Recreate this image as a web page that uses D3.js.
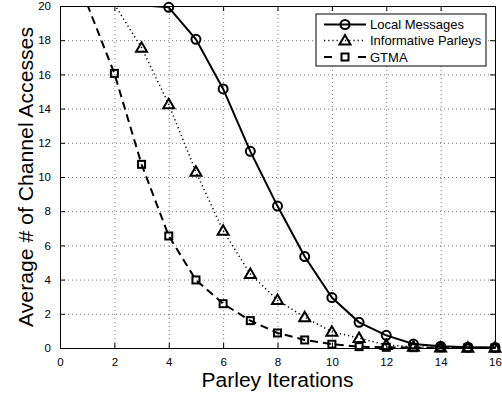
<!DOCTYPE html>
<html>
<head>
<meta charset="utf-8">
<script src="https://d3js.org/d3.v7.min.js"></script>
<style>
	body { margin: 0; background: #fff; }
	text { font-family: "Liberation Sans", Arial, sans-serif; fill: #000; }
	.grid line { stroke: #777; stroke-width: 1; stroke-dasharray: 1,3; }
	.grid path { display: none; }
</style>
</head>
<body>
<div id="svg-div"></div>
<script>
// values
var xTicks = [0, 2, 4, 6, 8, 10, 12, 14, 16];
var yTicks = [0, 2, 4, 6, 8, 10, 12, 14, 16, 18, 20];

var localX = [3, 4, 5, 6, 7, 8, 9, 10, 11, 12, 13, 14, 15, 16];
var localY = [20.05, 19.92, 18.05, 15.15, 11.5, 8.3, 5.35, 2.95, 1.5, 0.74, 0.23, 0.1, 0.05, 0.03];

var informX = [2, 3, 4, 5, 6, 7, 8, 9, 10, 11, 12, 13, 14, 15, 16];
var informY = [20.1, 17.56, 14.25, 10.3, 6.86, 4.33, 2.8, 1.8, 0.95, 0.58, 0.17, 0.07, 0.03, 0.02, 0.01];

var gtmaX = [1, 2, 3, 4, 5, 6, 7, 8, 9, 10, 11, 12, 13, 14, 15, 16];
var gtmaY = [20.1, 16.06, 10.74, 6.55, 3.98, 2.59, 1.6, 0.88, 0.47, 0.22, 0.08, 0.04, 0.02, 0.01, 0.01, 0.01];

var seriesNames = ["Local Messages", "Informative Parleys", "GTMA"];

var chartProperties = {
	outerWidth: 502,
	outerHeight: 396,
	margin: { top: 6, right: 7, bottom: 48, left: 60 }
};
chartProperties.width = chartProperties.outerWidth - chartProperties.margin.left - chartProperties.margin.right;
chartProperties.height = chartProperties.outerHeight - chartProperties.margin.top - chartProperties.margin.bottom;

var root = d3.select("#svg-div")
	.append("svg")
	.attr("width", chartProperties.outerWidth)
	.attr("height", chartProperties.outerHeight);

root.append("rect")
	.attr("width", chartProperties.outerWidth)
	.attr("height", chartProperties.outerHeight)
	.attr("fill", "#fff");

var svg = root.append("g")
	.attr("transform", "translate(" + chartProperties.margin.left + "," + chartProperties.margin.top + ")");

// Scale
var xScale = d3.scaleLinear()
	.domain([0, 16])
	.range([0, chartProperties.width]);

var yScale = d3.scaleLinear()
	.domain([0, 20])
	.range([chartProperties.height, 0]);

// Gridline
svg.append("g")
	.attr("class", "grid")
	.call(d3.axisBottom(xScale).tickValues(xTicks.slice(1, -1)).tickFormat("").tickSize(chartProperties.height));

svg.append("g")
	.attr("class", "grid")
	.call(d3.axisRight(yScale).tickValues(yTicks.slice(1, -1)).tickFormat("").tickSize(chartProperties.width));

// clip
svg.append("clipPath")
	.attr("id", "plot-clip")
	.append("rect")
	.attr("width", chartProperties.width)
	.attr("height", chartProperties.height);

function zip(xs, ys) {
	return xs.map(function(x, i) {
		return { x: x, y: ys[i] };
	});
}

var series = [
	{ name: seriesNames[0], data: zip(localX, localY), dash: null, width: 2, marker: "circle" },
	{ name: seriesNames[1], data: zip(informX, informY), dash: "1.2,3", width: 1.5, marker: "triangle" },
	{ name: seriesNames[2], data: zip(gtmaX, gtmaY), dash: "8,5", width: 2, marker: "square" }
];

var line = d3.line()
	.x(function(d) { return xScale(d.x); })
	.y(function(d) { return yScale(d.y); });

function drawMarker(g, type, x, y) {
	if (type == "circle") {
		g.append("circle")
			.attr("cx", x).attr("cy", y).attr("r", 4.5)
			.attr("fill", "none").attr("stroke", "#000").attr("stroke-width", 2);
	} else if (type == "triangle") {
		g.append("path")
			.attr("d", "M" + x + "," + (y - 5.5) + "L" + (x + 5.5) + "," + (y + 4) + "L" + (x - 5.5) + "," + (y + 4) + "Z")
			.attr("fill", "none").attr("stroke", "#000").attr("stroke-width", 2);
	} else {
		g.append("rect")
			.attr("x", x - 3.5).attr("y", y - 3.5).attr("width", 7).attr("height", 7)
			.attr("fill", "none").attr("stroke", "#000").attr("stroke-width", 2);
	}
}

var plot = svg.append("g").attr("clip-path", "url(#plot-clip)");

series.forEach(function(s) {
	plot.append("path")
		.datum(s.data)
		.attr("d", line)
		.attr("fill", "none")
		.attr("stroke", "#000")
		.attr("stroke-width", s.width)
		.attr("stroke-dasharray", s.dash);
});

series.forEach(function(s) {
	var mg = svg.append("g");
	s.data.forEach(function(d) {
		if (d.y <= 20) {
			drawMarker(mg, s.marker, xScale(d.x), yScale(d.y));
		}
	});
});

// Axis box + inward ticks
function styleAxis(g) {
	g.selectAll("path").attr("stroke", "#000").attr("stroke-width", 1);
	g.selectAll("line").attr("stroke", "#000").attr("stroke-width", 1);
}

svg.append("g")
	.attr("transform", "translate(0," + chartProperties.height + ")")
	.call(d3.axisBottom(xScale).tickValues(xTicks).tickSizeInner(-5).tickSizeOuter(0).tickPadding(10))
	.call(styleAxis)
	.selectAll("text").attr("font-size", "11.5px");

svg.append("g")
	.call(d3.axisTop(xScale).tickValues(xTicks).tickSizeInner(-5).tickSizeOuter(0).tickFormat(""))
	.call(styleAxis);

svg.append("g")
	.call(d3.axisLeft(yScale).tickValues(yTicks).tickSizeInner(-5).tickSizeOuter(0).tickPadding(9))
	.call(styleAxis)
	.selectAll("text").attr("font-size", "11.5px");

svg.append("g")
	.attr("transform", "translate(" + chartProperties.width + ",0)")
	.call(d3.axisRight(yScale).tickValues(yTicks).tickSizeInner(-5).tickSizeOuter(0).tickFormat(""))
	.call(styleAxis);

svg.selectAll(".domain").attr("fill", "none");

// Axis titles
svg.append("text")
	.attr("x", chartProperties.width / 2)
	.attr("y", chartProperties.height + 38.5)
	.attr("text-anchor", "middle")
	.attr("font-size", "20px")
	.attr("textLength", 152)
	.attr("lengthAdjust", "spacingAndGlyphs")
	.text("Parley Iterations");

svg.append("text")
	.attr("transform", "translate(" + (32.5 - chartProperties.margin.left) + "," + (chartProperties.height / 2) + ") rotate(-90)")
	.attr("text-anchor", "middle")
	.attr("font-size", "21px")
	.attr("textLength", 300)
	.attr("lengthAdjust", "spacingAndGlyphs")
	.text("Average # of Channel Accesses");

// Legend
var legend = root.append("g").attr("transform", "translate(316,14)");

legend.append("rect")
	.attr("width", 170)
	.attr("height", 52)
	.attr("fill", "#fff")
	.attr("stroke", "#000")
	.attr("stroke-width", 1);

var rowY = [10.5, 26.5, 43];

series.forEach(function(s, i) {
	var row = legend.append("g").attr("transform", "translate(0," + rowY[i] + ")");
	if (s.marker == "square") {
		row.append("line").attr("x1", 8).attr("x2", 16).attr("stroke", "#000").attr("stroke-width", 2);
		row.append("line").attr("x1", 42).attr("x2", 50).attr("stroke", "#000").attr("stroke-width", 2);
	} else {
		row.append("line")
			.attr("x1", 8).attr("x2", 50)
			.attr("stroke", "#000")
			.attr("stroke-width", s.width)
			.attr("stroke-dasharray", s.dash);
	}
	drawMarker(row, s.marker, 29, 0);
	row.append("text")
		.attr("x", 54)
		.attr("y", 4.5)
		.attr("font-size", "13px")
		.text(s.name);
});
</script>
</body>
</html>
